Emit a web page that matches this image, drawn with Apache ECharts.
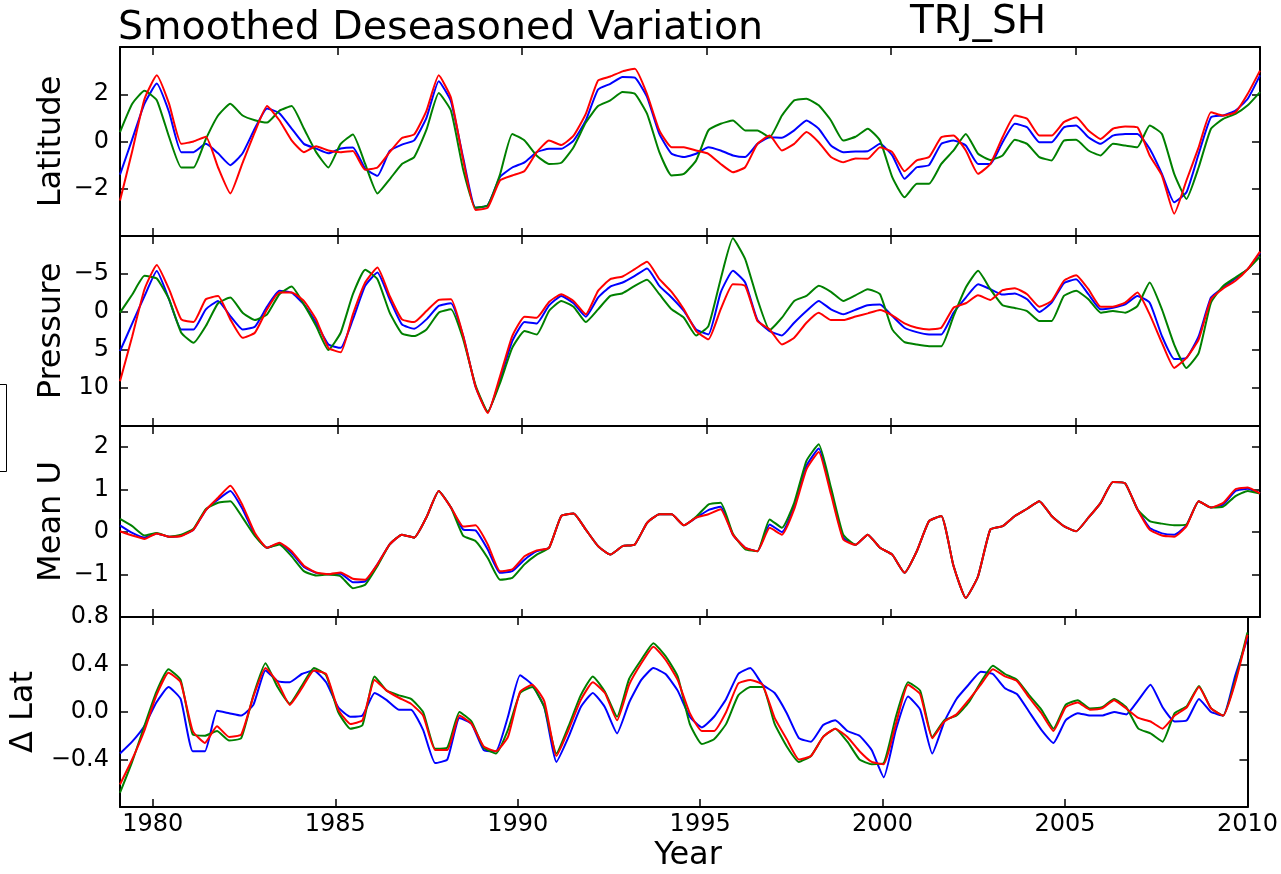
<!DOCTYPE html>
<html>
<head>
<meta charset="utf-8">
<script src="https://cdn.jsdelivr.net/npm/echarts@6/dist/echarts.min.js"></script>
<style>
html,body{margin:0;padding:0;background:#fff;}
#chart{width:1281px;height:874px;}
</style>
</head>
<body>
<div id="chart"></div>
<script>
// ---- time axis (sampling grid, ~1/3 year) ----
const X_MIN = 1979.1, X_MAX = 2010.0, N_PTS = 94;
const years = [];
for (let k = 0; k < N_PTS; k++) years.push(X_MIN + k * (X_MAX - X_MIN) / (N_PTS - 1));
const yearTicks = [1980, 1985, 1990, 1995, 2000, 2005, 2010];

// ---- Latitude ----
const latBlue = [
 -1.4, 0.1, 1.6, 2.45, 1.25, -0.45, -0.45, -0.1, -0.5, -1.0,
 -0.5, 0.55, 1.4, 1.2, 0.55, -0.1, -0.3, -0.5, -0.3, -0.25,
 -1.15, -1.45, -0.4, -0.13, 0.05, 1.0, 2.55, 1.7, -0.7, -2.8,
 -2.7, -1.5, -1.1, -0.88, -0.45, -0.31, -0.31, 0.04, 0.89, 2.2,
 2.44, 2.73, 2.7, 1.88, 0.32, -0.52, -0.66, -0.52, -0.24, -0.38,
 -0.59, -0.66, -0.1, 0.18, 0.16, 0.47, 0.89, 0.54, -0.17, -0.45,
 -0.42, -0.41, -0.1, -0.59, -1.58, -1.09, -1.0, -0.1, 0.04, -0.17,
 -0.95, -0.95, -0.03, 0.75, 0.6, -0.03, -0.03, 0.6, 0.68, 0.18,
 -0.1, 0.25, 0.32, 0.32, -0.31, -1.37, -2.57, -2.15, -0.52, 1.03,
 1.1, 1.31, 1.81, 2.8];
const latGreen = [
 0.4, 1.6, 2.15, 1.75, 0.2, -1.1, -1.1, 0.1, 1.1, 1.6,
 1.1, 0.9, 0.8, 1.3, 1.5, 0.55, -0.45, -1.1, -0.1, 0.3,
 -0.95, -2.2, -1.6, -0.95, -0.66, 0.5, 2.05, 1.3, -1.2, -2.8,
 -2.7, -1.4, 0.32, 0.04, -0.6, -0.95, -0.9, -0.24, 0.8, 1.5,
 1.74, 2.09, 2.02, 1.17, -0.45, -1.44, -1.37, -0.8, 0.47, 0.75,
 0.89, 0.47, 0.47, 0.18, 1.1, 1.74, 1.81, 1.53, 0.89, 0.04,
 0.2, 0.54, 0.04, -1.51, -2.36, -1.79, -1.79, -0.95, -0.38, 0.32,
 -0.52, -0.78, -0.59, 0.07, -0.1, -0.66, -0.8, 0.04, 0.07, -0.38,
 -0.59, -0.1, -0.17, -0.24, 0.68, 0.32, -1.37, -2.43, -1.09, 0.54,
 0.96, 1.17, 1.53, 2.09];
const latRed = [
 -2.5, -0.4, 1.8, 2.8, 1.6, -0.1, 0.0, 0.2, -1.1, -2.2,
 -0.9, 0.4, 1.5, 0.9, 0.05, -0.45, -0.2, -0.38, -0.45, -0.4,
 -1.2, -1.1, -0.45, 0.15, 0.3, 1.3, 2.8, 1.85, -0.8, -2.9,
 -2.8, -1.65, -1.44, -1.25, -0.45, 0.04, -0.15, 0.25, 1.17, 2.58,
 2.75, 2.97, 3.08, 2.0, 0.47, -0.24, -0.24, -0.38, -0.52, -0.95,
 -1.3, -1.09, -0.1, 0.25, -0.38, -0.1, 0.4, -0.03, -0.66, -0.88,
 -0.72, -0.73, -0.24, -0.45, -1.26, -0.8, -0.66, 0.18, 0.25, -0.38,
 -1.37, -0.95, 0.18, 1.1, 0.96, 0.25, 0.25, 0.82, 1.03, 0.47,
 0.11, 0.54, 0.64, 0.6, -0.59, -1.44, -3.06, -1.65, -0.24, 1.24,
 1.1, 1.24, 2.02, 3.0];

// ---- Pressure ----
const presBlue = [
 5.16, 1.5, -2.1, -5.4, -1.68, 2.3, 2.3, -0.35, -1.46, 0.53,
 2.3, 1.94, -0.7, -2.78, -2.56, -1.0, 1.41, 4.28, 4.72, 0.97,
 -3.44, -5.2, -1.68, 1.63, 2.2, 0.97, -0.8, -1.15, 3.17, 9.8,
 13.2, 8.9, 3.84, 1.32, 1.5, -0.88, -2.12, -1.15, 0.62, -1.9,
 -3.35, -3.88, -4.76, -5.73, -3.44, -1.9, -0.13, 2.29, 2.95, -2.56,
 -5.42, -3.88, 1.06, 2.51, 3.09, 1.41, -0.13, -1.46, -0.35, 0.31,
 -0.3, -0.88, -1.0, 0.53, 2.07, 2.65, 2.95, 2.95, 0.09, -1.9,
 -3.66, -3.0, -2.29, -2.43, -1.68, 0.0, -1.23, -3.79, -4.32, -2.34,
 -0.35, -0.57, -1.0, -2.12, -1.23, 3.17, 6.17, 6.04, 3.17, -1.9,
 -3.22, -4.41, -5.64, -7.76];
const presGreen = [
 0.09, -2.3, -4.76, -4.4, -1.68, 2.73, 4.06, 1.85, -1.15, -1.9,
 0.09, 1.06, 0.31, -2.34, -3.35, -1.0, 1.85, 5.0, 2.73, -2.34,
 -5.56, -4.32, 0.09, 2.82, 3.17, 2.29, 0.09, -0.35, 3.6, 9.6,
 13.1, 9.35, 4.72, 2.51, 2.95, -0.13, -1.46, -0.7, 1.32, -0.35,
 -2.12, -2.47, -3.44, -4.23, -2.34, -0.35, 0.75, 3.09, 1.85, -4.32,
 -9.7, -6.97, -1.68, 2.38, 0.75, -1.46, -2.12, -3.44, -2.65, -1.46,
 -2.2, -3.0, -2.34, 2.29, 3.97, 4.28, 4.5, 4.5, 0.53, -3.22,
 -5.42, -3.0, -0.88, -0.53, -0.13, 1.19, 1.19, -2.12, -2.78, -1.68,
 0.09, -0.13, 0.09, -0.79, -3.88, -0.35, 4.28, 7.36, 5.38, -1.23,
 -3.44, -4.54, -5.64, -7.3];
const presRed = [
 9.1, 3.2, -3.0, -6.2, -3.0, 0.97, 1.32, -1.68, -2.1, 0.97,
 3.4, 2.73, -0.35, -2.56, -2.56, -1.46, 0.97, 4.72, 5.3, 0.31,
 -3.88, -5.86, -2.12, 0.97, 1.32, -0.13, -1.6, -1.68, 3.17, 9.8,
 13.3, 8.47, 3.17, 0.62, 0.75, -1.32, -2.34, -1.46, 0.31, -2.78,
 -4.32, -4.67, -5.64, -6.6, -4.32, -2.65, -0.35, 2.51, 3.6, -0.35,
 -3.66, -3.44, 1.19, 2.29, 4.28, 3.4, 1.41, 0.09, 1.06, 1.06,
 0.6, 0.18, -0.26, 0.44, 1.5, 2.07, 2.29, 2.07, -0.57, -1.15,
 -2.2, -1.59, -2.87, -3.13, -2.34, -0.7, -1.46, -4.1, -4.85, -3.0,
 -0.7, -0.7, -1.23, -2.56, 0.31, 4.06, 7.36, 6.04, 3.6, -1.68,
 -3.09, -4.1, -5.64, -7.94];

// ---- Mean U ----
const uBlue = [
 0.16, -0.02, -0.13, -0.03, -0.11, -0.08, 0.06, 0.52, 0.77, 0.97,
 0.54, -0.06, -0.37, -0.27, -0.49, -0.82, -0.96, -0.99, -0.98, -1.18,
 -1.16, -0.76, -0.29, -0.06, -0.13, 0.35, 0.97, 0.58, 0.06, 0.04,
 -0.41, -0.96, -0.92, -0.65, -0.45, -0.37, 0.38, 0.44, 0.06, -0.33,
 -0.53, -0.33, -0.29, 0.22, 0.42, 0.42, 0.16, 0.34, 0.52, 0.6,
 -0.06, -0.37, -0.45, 0.18, 0.0, 0.61, 1.56, 1.97, 0.97, -0.13,
 -0.3, -0.06, -0.37, -0.53, -0.96, -0.45, 0.26, 0.38, -0.8, -1.55,
 -1.04, 0.06, 0.14, 0.38, 0.55, 0.73, 0.38, 0.14, 0.02, 0.34,
 0.69, 1.18, 1.15, 0.54, 0.1, -0.03, -0.06, 0.16, 0.73, 0.58,
 0.65, 0.97, 1.02, 0.91];
const uGreen = [
 0.31, 0.14, -0.08, -0.02, -0.11, -0.06, 0.08, 0.54, 0.69, 0.73,
 0.34, -0.09, -0.37, -0.29, -0.57, -0.92, -1.02, -1.0, -1.04, -1.32,
 -1.24, -0.8, -0.29, -0.06, -0.13, 0.35, 0.97, 0.58, -0.09, -0.21,
 -0.61, -1.12, -1.08, -0.76, -0.53, -0.37, 0.38, 0.44, 0.06, -0.33,
 -0.53, -0.33, -0.29, 0.22, 0.42, 0.42, 0.16, 0.36, 0.65, 0.69,
 -0.04, -0.4, -0.45, 0.3, 0.1, 0.69, 1.68, 2.07, 1.05, -0.06,
 -0.3, -0.06, -0.37, -0.53, -0.96, -0.45, 0.26, 0.38, -0.8, -1.55,
 -1.04, 0.06, 0.14, 0.38, 0.55, 0.73, 0.38, 0.14, 0.02, 0.34,
 0.69, 1.18, 1.15, 0.54, 0.26, 0.2, 0.16, 0.18, 0.73, 0.58,
 0.6, 0.85, 0.97, 0.91];
const uRed = [
 0.02, -0.08, -0.16, -0.03, -0.11, -0.09, 0.06, 0.52, 0.81, 1.09,
 0.63, -0.02, -0.37, -0.25, -0.45, -0.79, -0.95, -0.99, -0.95, -1.1,
 -1.12, -0.76, -0.29, -0.06, -0.13, 0.35, 0.97, 0.58, 0.13, 0.16,
 -0.29, -0.92, -0.88, -0.57, -0.43, -0.37, 0.38, 0.44, 0.06, -0.33,
 -0.53, -0.33, -0.29, 0.22, 0.42, 0.42, 0.16, 0.34, 0.42, 0.54,
 -0.06, -0.37, -0.45, 0.1, -0.06, 0.54, 1.48, 1.89, 0.89, -0.17,
 -0.3, -0.06, -0.37, -0.53, -0.96, -0.45, 0.26, 0.38, -0.8, -1.55,
 -1.04, 0.06, 0.14, 0.38, 0.55, 0.73, 0.38, 0.14, 0.02, 0.34,
 0.69, 1.18, 1.15, 0.54, 0.06, -0.08, -0.11, 0.14, 0.73, 0.58,
 0.69, 1.01, 1.05, 0.91];

// ---- Delta Lat ----
const dBlue = [
 -0.35, -0.25, -0.12, 0.08, 0.21, 0.11, -0.33, -0.33, 0.01, -0.01,
 -0.03, 0.06, 0.35, 0.26, 0.25, 0.32, 0.35, 0.25, 0.04, -0.04,
 -0.03, 0.16, 0.1, 0.02, 0.02, -0.15, -0.43, -0.4, -0.05, -0.1,
 -0.32, -0.33, -0.04, 0.31, 0.23, 0.04, -0.42, -0.21, 0.04, 0.16,
 0.04, -0.18, 0.08, 0.27, 0.37, 0.32, 0.18, -0.04, -0.13, -0.04,
 0.11, 0.32, 0.37, 0.23, 0.16, -0.01, -0.22, -0.25, -0.11, -0.07,
 -0.16, -0.2, -0.32, -0.55, -0.15, 0.13, 0.02, -0.35, -0.08, 0.11,
 0.23, 0.34, 0.32, 0.2, 0.15, 0.0, -0.15, -0.26, -0.07, -0.01,
 -0.03, -0.03, 0.0, -0.02, 0.1, 0.23, 0.04, -0.08, -0.07, 0.11,
 0.0, -0.03, 0.31, 0.62];
const dGreen = [
 -0.68, -0.42, -0.12, 0.17, 0.36, 0.27, -0.19, -0.2, -0.16, -0.24,
 -0.22, 0.14, 0.41, 0.21, 0.07, 0.22, 0.37, 0.31, 0.0, -0.14,
 -0.11, 0.3, 0.18, 0.14, 0.11, 0.0, -0.31, -0.3, 0.0, -0.08,
 -0.3, -0.35, -0.15, 0.16, 0.21, 0.04, -0.35, -0.12, 0.14, 0.3,
 0.17, -0.04, 0.28, 0.44, 0.58, 0.47, 0.3, -0.1, -0.27, -0.23,
 -0.1, 0.14, 0.21, 0.21, -0.1, -0.29, -0.42, -0.37, -0.21, -0.14,
 -0.25, -0.4, -0.44, -0.43, -0.04, 0.25, 0.18, -0.21, -0.07, -0.03,
 0.08, 0.25, 0.39, 0.32, 0.27, 0.14, 0.02, -0.14, 0.06, 0.1,
 0.03, 0.04, 0.11, 0.04, -0.14, -0.18, -0.25, -0.01, 0.05, 0.22,
 0.03, -0.03, 0.27, 0.67];
const dRed = [
 -0.61, -0.4, -0.16, 0.14, 0.33, 0.25, -0.16, -0.26, -0.12, -0.21,
 -0.19, 0.13, 0.37, 0.25, 0.06, 0.2, 0.35, 0.32, 0.02, -0.1,
 -0.07, 0.27, 0.18, 0.12, 0.07, -0.03, -0.32, -0.32, -0.03, -0.1,
 -0.29, -0.33, -0.21, 0.17, 0.23, 0.09, -0.37, -0.15, 0.1, 0.25,
 0.16, -0.07, 0.23, 0.41, 0.55, 0.44, 0.27, -0.01, -0.16, -0.16,
 0.0, 0.24, 0.27, 0.23, -0.05, -0.23, -0.4, -0.37, -0.21, -0.14,
 -0.21, -0.33, -0.42, -0.44, -0.1, 0.23, 0.15, -0.22, -0.08, -0.02,
 0.1, 0.23, 0.36, 0.3, 0.26, 0.12, -0.01, -0.16, 0.04, 0.08,
 0.02, 0.03, 0.1, 0.03, -0.05, -0.08, -0.14, -0.03, 0.04, 0.21,
 0.03, -0.03, 0.25, 0.65];

// ---- panel definitions ----
const panelNames = ['Latitude', 'Pressure', 'Mean U', '\u0394 Lat'];
const panelTicks = [[-2, 0, 2], [-5, 0, 5, 10], [-1, 0, 1, 2], [-0.4, 0.0, 0.4, 0.8]];
const panelRanges = [[-4, 4], [-10, 15], [-2, 2.5], [-0.8, 0.8]];
const panelInverse = [false, true, false, false];
const panelDecimals = [0, 0, 0, 1];
const panelData = [
  [latBlue, latGreen, latRed],
  [presBlue, presGreen, presRed],
  [uBlue, uGreen, uRed],
  [dBlue, dGreen, dRed]
];
const lineColors = ['#0000ff', '#008000', '#ff0000'];

// ---- layout ----
const gridTops = [47, 236, 426, 617];
const gridHeights = [189, 190, 191, 190];
const nameX = [52, 52, 52, 24];
const FONT = '"DejaVu Sans", "Bitstream Vera Sans", sans-serif';
const spine = { color: '#000', width: 2 };
const tickStyle = { color: '#000', width: 1.5 };

function fmt(v, d) {
  return v.toFixed(d).replace('-', '\u2212');
}

const grid = [], xAxis = [], yAxis = [], series = [], graphic = [];
for (let i = 0; i < 4; i++) {
  grid.push({ left: 120, right: 21, top: gridTops[i], height: gridHeights[i], containLabel: false });
  const xBase = {
    type: 'value', gridIndex: i, min: X_MIN, max: X_MAX,
    axisLine: { show: true, onZero: false, lineStyle: spine },
    axisTick: { show: true, inside: true, length: 8, lineStyle: tickStyle, customValues: yearTicks },
    splitLine: { show: false }
  };
  xAxis.push(Object.assign({}, xBase, {
    position: 'bottom',
    axisLabel: { show: i === 3, customValues: yearTicks, fontSize: 24, fontFamily: FONT, color: '#000', margin: 6,
                 alignMaxLabel: 'center', alignMinLabel: 'center', hideOverlap: false,
                 formatter: v => String(Math.round(v)) }
  }));
  xAxis.push(Object.assign({}, xBase, { position: 'top', axisLabel: { show: false } }));
  const d = panelDecimals[i];
  const yBase = {
    type: 'value', gridIndex: i, min: panelRanges[i][0], max: panelRanges[i][1], inverse: panelInverse[i],
    axisLine: { show: true, onZero: false, lineStyle: spine },
    axisTick: { show: true, inside: true, length: 8, lineStyle: tickStyle, customValues: panelTicks[i] },
    splitLine: { show: false }
  };
  yAxis.push(Object.assign({}, yBase, {
    position: 'left',
    axisLabel: { show: true, customValues: panelTicks[i], fontSize: 24, fontFamily: FONT, color: '#000', margin: 11,
                 formatter: v => fmt(v, d) }
  }));
  yAxis.push(Object.assign({}, yBase, { position: 'right', axisLabel: { show: false } }));

  panelData[i].forEach((arr, j) => {
    series.push({
      type: 'line', xAxisIndex: 2 * i, yAxisIndex: 2 * i,
      data: years.map((t, k) => [t, arr[k]]),
      showSymbol: false, symbol: 'none', smooth: 0.15,
      lineStyle: { color: lineColors[j], width: 2 },
      itemStyle: { color: lineColors[j] },
      z: 2 + j, silent: true, clip: true
    });
  });

  graphic.push({
    type: 'text', x: nameX[i], y: gridTops[i] + gridHeights[i] / 2, rotation: Math.PI / 2,
    style: { text: panelNames[i], font: '32px ' + FONT, fill: '#000',
             textAlign: 'center', textVerticalAlign: 'middle', align: 'center', verticalAlign: 'middle' }
  });
}

graphic.push({
  type: 'text', x: 118, y: 28.5,
  style: { text: 'Smoothed Deseasoned Variation', font: '39.5px ' + FONT, fill: '#000',
           textAlign: 'left', textVerticalAlign: 'middle', align: 'left', verticalAlign: 'middle' }
});
graphic.push({
  type: 'text', x: 910, y: 22.5,
  style: { text: 'TRJ_SH', font: '39px ' + FONT, fill: '#000',
           textAlign: 'left', textVerticalAlign: 'middle', align: 'left', verticalAlign: 'middle' }
});
graphic.push({
  type: 'text', x: 688, y: 856,
  style: { text: 'Year', font: '32px ' + FONT, fill: '#000',
           textAlign: 'center', textVerticalAlign: 'middle', align: 'center', verticalAlign: 'middle' }
});
graphic.push({
  type: 'rect', shape: { x: -5, y: 384.5, width: 11.5, height: 87 },
  style: { fill: 'none', stroke: '#000', lineWidth: 1 }
});

const chart = echarts.init(document.getElementById('chart'), null, { renderer: 'canvas' });
chart.setOption({
  backgroundColor: '#fff',
  animation: false,
  grid, xAxis, yAxis, series, graphic
});
</script>
</body>
</html>
